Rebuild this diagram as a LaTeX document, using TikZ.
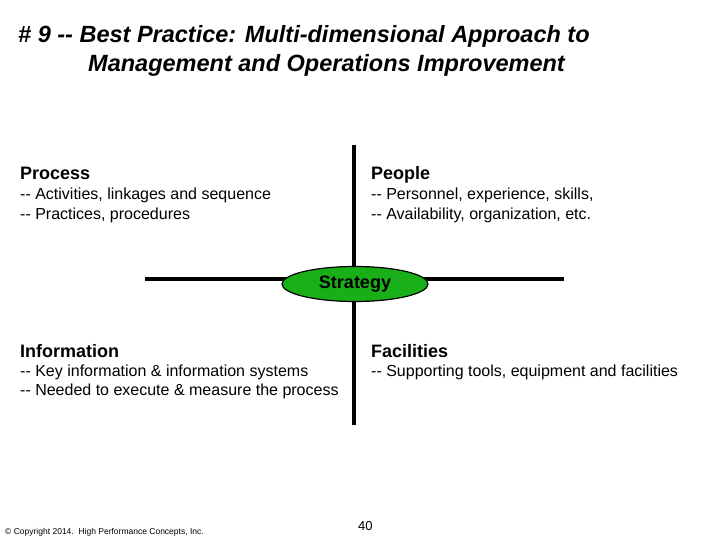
\documentclass[tikz,border=0pt]{standalone}
\usepackage{fontspec}
\setmainfont{Liberation Sans}
\usetikzlibrary{shapes.geometric}
\newcommand{\dd}{{-}{-}}
\begin{document}
\begin{tikzpicture}[x=1pt,y=-1pt,
  head/.style={anchor=base west,font=\bfseries\fontsize{18}{21}\selectfont,inner sep=0},
  body/.style={anchor=base west,font=\fontsize{16}{19}\selectfont,inner sep=0},
  bar/.style={line width=4pt}]
\useasboundingbox (0,0) rectangle (720,540);
\node[anchor=base west,font=\bfseries\itshape\fontsize{23.5}{27}\selectfont,inner sep=0] (t1) at (18,43) {\# 9 \dd{} Best Practice: Multi-dimensional Approach to};
\node[anchor=base west,font=\bfseries\itshape\fontsize{23.5}{27}\selectfont,inner sep=0] (t2) at (88,72) {Management and Operations Improvement};
\coordinate (vt) at (354,145); \coordinate (vb) at (354,425);
\coordinate (hl) at (145,279); \coordinate (hr) at (564,279);
\draw[bar] (vt) -- (vb);
\draw[bar] (hl) -- (hr);
\node[ellipse,draw=black,line width=1.2pt,fill=green!65!black!90,minimum width=146,minimum height=35,inner sep=0,font=\bfseries\fontsize{18}{20}\selectfont] (s) at (355,284) {Strategy};
\node[head] (p) at (20,180) {Process};
\node[body] (pb1) at (20,200) {\dd{} Activities, linkages and sequence};
\node[body] (pb2) at (20,219) {\dd{} Practices, procedures};
\node[head] (pe) at (371,180) {People};
\node[body] (peb1) at (371,200) {\dd{} Personnel, experience, skills,};
\node[body] (peb2) at (371,219) {\dd{} Availability, organization, etc.};
\node[head] (i) at (20,357) {Information};
\node[body] (ib1) at (20,376) {\dd{} Key information \& information systems};
\node[body] (ib2) at (20,395) {\dd{} Needed to execute \& measure the process};
\node[head] (f) at (371,357) {Facilities};
\node[body] (fb) at (371,376) {\dd{} Supporting tools, equipment and facilities};
\node[anchor=base west,font=\fontsize{8.5}{10}\selectfont,inner sep=0] (c) at (5,534) {\textcopyright{} Copyright 2014.\ \ High Performance Concepts, Inc.};
\node[anchor=base west,font=\fontsize{13}{15}\selectfont,inner sep=0] (n) at (358,530) {40};
\end{tikzpicture}
\end{document}
